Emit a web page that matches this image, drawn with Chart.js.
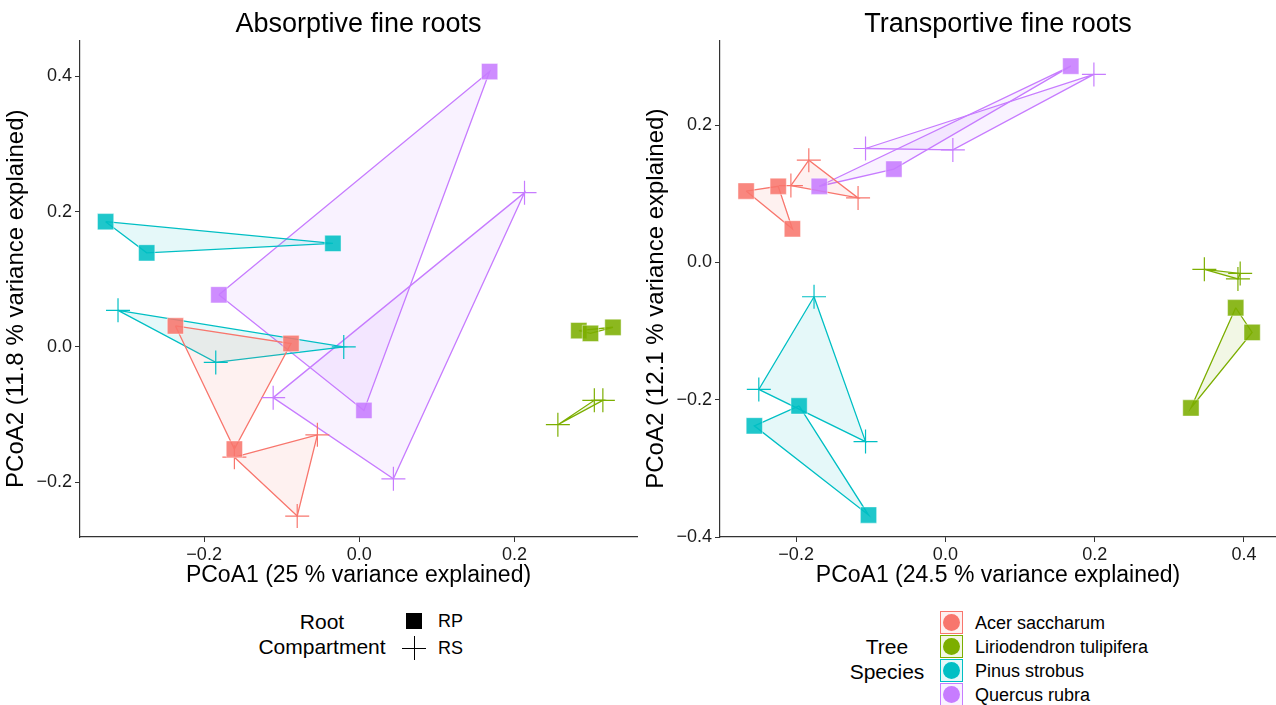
<!DOCTYPE html>
<html>
<head>
<meta charset="utf-8">
<script src="https://cdn.jsdelivr.net/npm/chart.js@4.4.1/dist/chart.umd.min.js"></script>
<style>
  body { margin: 0; background: #fff; font-family: "Liberation Sans", Arial, sans-serif; color: #000; }
  #wrap { position: relative; width: 1276px; height: 705px; overflow: hidden; }
  .panel { position: absolute; top: 0; height: 600px; }
  .ltitle { position: absolute; font-size: 21px; line-height: 25px; text-align: center; }
  .llab { position: absolute; font-size: 18px; line-height: 24px; white-space: nowrap; }
  .sq { position: absolute; width: 16px; height: 16px; background: #000; }
  .crossh, .crossv { position: absolute; background: #000; }
  .box { position: absolute; width: 21px; height: 21px; border: 1px solid; }
  .dot { position: absolute; left: 2px; top: 2px; width: 17px; height: 17px; border-radius: 50%; }
</style>
</head>
<body>
<div id="wrap">
  <div class="panel" style="left:0;width:640px;"><canvas id="absChart"></canvas></div>
  <div class="panel" style="left:640px;width:636px;"><canvas id="trChart"></canvas></div>

  <div class="ltitle" style="left:240px;top:609px;width:164px;">Root<br>Compartment</div>
  <div class="sq" style="left:406px;top:613px;"></div>
  <div class="crossh" style="left:402px;top:648px;width:24px;height:1.3px;"></div>
  <div class="crossv" style="left:413.5px;top:636px;width:1.3px;height:24px;"></div>
  <div class="llab" style="left:438px;top:609px;">RP</div>
  <div class="llab" style="left:438px;top:636px;">RS</div>

  <div class="ltitle" style="left:837px;top:634px;width:100px;">Tree<br>Species</div>
  <div id="speciesKeys"></div>
</div>

<script>
const species = ['Acer saccharum', 'Liriodendron tulipifera', 'Pinus strobus', 'Quercus rubra'];
const palette = ['#F8766D', '#7CAE00', '#00BFC4', '#C77CFF'];

// Absorptive fine roots: [PCoA1, PCoA2], listed in hull order
const absAcerRP = [[-0.237, 0.031], [-0.088, 0.005], [-0.161, -0.151]];
const absAcerRS = [[-0.161, -0.163], [-0.054, -0.130], [-0.080, -0.250]];
const absLirioRP = [[0.283, 0.024], [0.298, 0.020], [0.327, 0.029]];
const absLirioRS = [[0.256, -0.115], [0.303, -0.079], [0.314, -0.079]];
const absPinusRP = [[-0.327, 0.185], [-0.034, 0.153], [-0.274, 0.139]];
const absPinusRS = [[-0.311, 0.054], [-0.020, 0.000], [-0.185, -0.023]];
const absQuercusRP = [[-0.181, 0.077], [0.168, 0.407], [0.006, -0.094]];
const absQuercusRS = [[-0.111, -0.075], [0.213, 0.228], [0.044, -0.195]];

// Transportive fine roots
const trAcerRP = [[-0.267, 0.104], [-0.224, 0.111], [-0.205, 0.049]];
const trAcerRS = [[-0.207, 0.112], [-0.183, 0.149], [-0.117, 0.094]];
const trLirioRP = [[0.389, -0.066], [0.411, -0.102], [0.329, -0.212]];
const trLirioRS = [[0.347, -0.010], [0.395, -0.016], [0.392, -0.024]];
const trPinusRP = [[-0.196, -0.209], [-0.103, -0.368], [-0.256, -0.238]];
const trPinusRS = [[-0.176, -0.050], [-0.107, -0.261], [-0.250, -0.185]];
const trQuercusRP = [[-0.169, 0.111], [0.168, 0.286], [-0.069, 0.136]];
const trQuercusRS = [[-0.107, 0.166], [0.199, 0.274], [0.010, 0.164]];

const absXRange = [-0.360, 0.358];
const absYRange = [-0.281, 0.453];
const trXRange = [-0.302, 0.443];
const trYRange = [-0.400, 0.3235];

const absXTicks = [-0.2, 0, 0.2];
const absYTicks = [-0.2, 0, 0.2, 0.4];
const trXTicks = [-0.2, 0, 0.2, 0.4];
const trYTicks = [-0.4, -0.2, 0, 0.2];

Chart.defaults.font.family = '"Liberation Sans", Arial, sans-serif';

function rgba(hex, a) {
    const n = parseInt(hex.slice(1), 16);
    return `rgba(${n >> 16}, ${(n >> 8) & 255}, ${n & 255}, ${a})`;
}

function toXY(pts) {
    return pts.map(p => ({ x: p[0], y: p[1] }));
}

function buildDatasets(groups) {
    const points = [];
    const hulls = [];
    groups.forEach(g => {
        const col = palette[g.sp];
        points.push({
            data: toXY(g.rp),
            pointStyle: 'rect',
            pointRadius: 11.5,
            pointHoverRadius: 11.5,
            backgroundColor: rgba(col, 0.88),
            borderColor: rgba('#ffffff', 0.45),
            borderWidth: 1,
            order: 0
        });
        points.push({
            data: toXY(g.rs),
            pointStyle: 'cross',
            pointRadius: 12,
            pointHoverRadius: 12,
            borderColor: col,
            borderWidth: 1.2,
            order: 0
        });
        [g.rp, g.rs].forEach(set => {
            hulls.push({
                data: toXY([...set, set[0]]),
                showLine: true,
                fill: 'shape',
                tension: 0,
                pointRadius: 0,
                pointHoverRadius: 0,
                borderColor: col,
                borderWidth: 1.3,
                backgroundColor: rgba(col, 0.1),
                order: 1
            });
        });
    });
    return [...points, ...hulls];
}

function fmtTick(v) {
    return (v < 0 ? '\u2212' : '') + Math.abs(v).toFixed(1);
}

function makeChart(id, title, xTitle, yTitle, xRange, yRange, xTicks, yTicks, groups, rightPad) {
    const ctx = document.getElementById(id).getContext('2d');
    return new Chart(ctx, {
        type: 'scatter',
        data: { datasets: buildDatasets(groups) },
        options: {
            responsive: true,
            maintainAspectRatio: false,
            animation: false,
            events: [],
            layout: { autoPadding: false, padding: { left: 0, right: rightPad, top: 0, bottom: 0 } },
            plugins: {
                legend: { display: false },
                tooltip: { enabled: false },
                title: {
                    display: true,
                    fullSize: false,
                    text: title,
                    color: '#000',
                    font: { size: 27, weight: 'normal' },
                    padding: { top: 8, bottom: 0 }
                }
            },
            scales: {
                x: {
                    type: 'linear',
                    min: xRange[0],
                    max: xRange[1],
                    afterBuildTicks: ax => { ax.ticks = xTicks.map(v => ({ value: v })); },
                    afterFit: s => { s.height = 63; s.paddingLeft = 0; s.paddingRight = 0; },
                    ticks: { callback: fmtTick, color: '#1a1a1a', font: { size: 18 }, padding: 2, maxRotation: 0, autoSkip: false },
                    grid: { display: true, drawOnChartArea: false, drawTicks: true, tickLength: 5, color: '#333' },
                    border: { display: true, color: '#333', width: 1.2 },
                    title: { display: true, text: xTitle, color: '#000', font: { size: 23 }, padding: { top: 0, bottom: 11 } }
                },
                y: {
                    type: 'linear',
                    min: yRange[0],
                    max: yRange[1],
                    afterBuildTicks: ax => { ax.ticks = yTicks.map(v => ({ value: v })); },
                    afterFit: s => { s.width = 80; s.paddingTop = 0; s.paddingBottom = 0; },
                    ticks: { callback: fmtTick, color: '#1a1a1a', font: { size: 18 }, padding: 3, autoSkip: false },
                    grid: { display: true, drawOnChartArea: false, drawTicks: true, tickLength: 5, color: '#333' },
                    border: { display: true, color: '#333', width: 1.2 },
                    title: { display: true, text: yTitle + '\u00a0\u00a0\u00a0', color: '#000', font: { size: 24 }, padding: { top: 2, bottom: 0 } }
                }
            }
        }
    });
}

makeChart('absChart', 'Absorptive fine roots',
    'PCoA1 (25 % variance explained)', 'PCoA2 (11.8 % variance explained)',
    absXRange, absYRange, absXTicks, absYTicks, [
        { sp: 0, rp: absAcerRP, rs: absAcerRS },
        { sp: 1, rp: absLirioRP, rs: absLirioRS },
        { sp: 2, rp: absPinusRP, rs: absPinusRS },
        { sp: 3, rp: absQuercusRP, rs: absQuercusRS }
    ], 3);

makeChart('trChart', 'Transportive fine roots',
    'PCoA1 (24.5 % variance explained)', 'PCoA2 (12.1 % variance explained)',
    trXRange, trYRange, trXTicks, trYTicks, [
        { sp: 0, rp: trAcerRP, rs: trAcerRS },
        { sp: 1, rp: trLirioRP, rs: trLirioRS },
        { sp: 2, rp: trPinusRP, rs: trPinusRS },
        { sp: 3, rp: trQuercusRP, rs: trQuercusRS }
    ], 0);

// species legend keys
const keys = document.getElementById('speciesKeys');
species.forEach((name, i) => {
    const top = 611 + i * 24;
    const box = document.createElement('div');
    box.className = 'box';
    box.style.left = '940px';
    box.style.top = top + 'px';
    box.style.borderColor = palette[i];
    box.style.background = rgba(palette[i], 0.1);
    const dot = document.createElement('div');
    dot.className = 'dot';
    dot.style.background = palette[i];
    box.appendChild(dot);
    keys.appendChild(box);
    const lab = document.createElement('div');
    lab.className = 'llab';
    lab.style.left = '975px';
    lab.style.top = (top - 0.5) + 'px';
    lab.textContent = name;
    keys.appendChild(lab);
});
</script>
</body>
</html>
